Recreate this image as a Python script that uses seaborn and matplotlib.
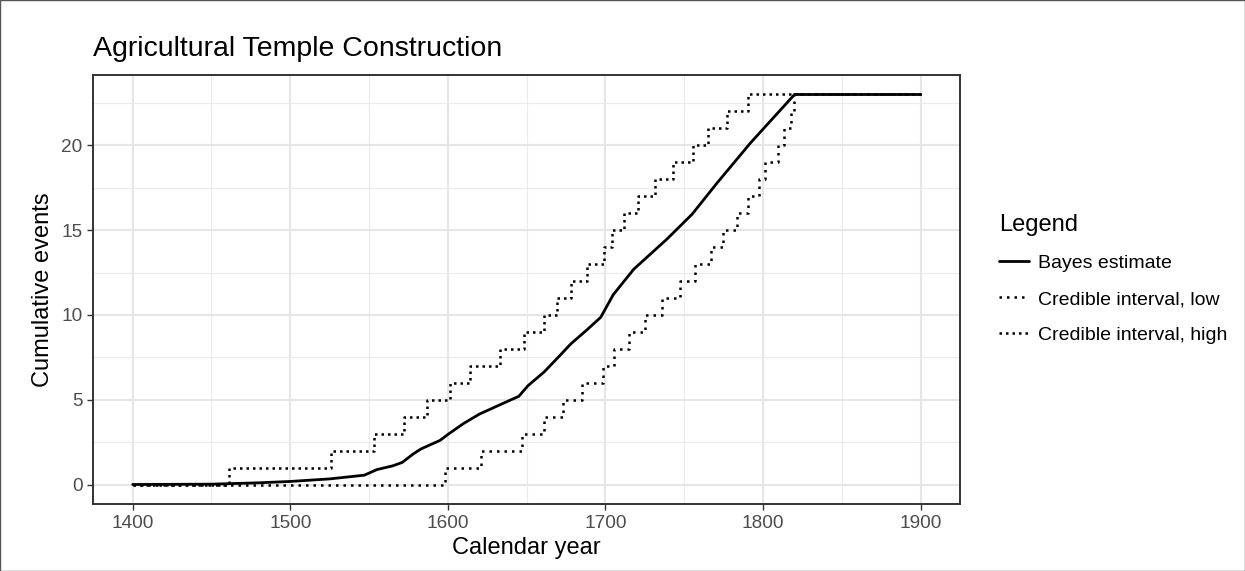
import matplotlib
matplotlib.use("Agg")
import matplotlib.pyplot as plt
from matplotlib.lines import Line2D
from matplotlib.patches import Rectangle
import seaborn as sns

# ---- data ----
# Bayes estimate of cumulative events
bayes_year = [1400, 1450, 1480, 1500, 1525, 1547, 1555, 1565, 1571, 1578, 1583,
              1595, 1600, 1610, 1620, 1633, 1645, 1651, 1661, 1670, 1678, 1688,
              1697, 1705, 1718, 1739, 1755, 1771, 1792, 1820, 1900]
bayes_value = [0, 0.02, 0.1, 0.18, 0.33, 0.55, 0.88, 1.1, 1.3, 1.8, 2.1,
               2.6, 2.95, 3.6, 4.15, 4.7, 5.2, 5.84, 6.63, 7.5, 8.29, 9.1,
               9.86, 11.2, 12.7, 14.47, 15.94, 17.8, 20.14, 23, 23]

# credible interval, low: year at which the count steps up
low_year = [1400, 1598, 1621.3, 1647.1, 1661.3, 1673.2, 1685.3, 1698.6, 1705.4,
            1714.9, 1725, 1735.6, 1747.1, 1756.8, 1766.8, 1774.6, 1783.3,
            1790.7, 1797.5, 1801.3, 1809.2, 1813.4, 1817.6, 1819.7, 1900]
low_count = [0, 1, 2, 3, 4, 5, 6, 7, 8, 9, 10, 11, 12, 13, 14, 15, 16, 17, 18,
             19, 20, 21, 22, 23, 23]

# credible interval, high
high_year = [1400, 1461.4, 1525.8, 1552.9, 1572.4, 1586.8, 1601.6, 1613.8,
             1633.4, 1648.6, 1660.9, 1669.4, 1678.3, 1688.4, 1699, 1704.3,
             1711.7, 1720.8, 1731.2, 1743.1, 1755.6, 1765.1, 1777, 1790.5, 1900]
high_count = [0, 1, 2, 3, 4, 5, 6, 7, 8, 9, 10, 11, 12, 13, 14, 15, 16, 17, 18,
              19, 20, 21, 22, 23, 23]

x_ticks = [1400, 1500, 1600, 1700, 1800, 1900]
y_ticks = [0, 5, 10, 15, 20]

# ---- style ----
sns.set_style("white")
plt.rcParams["font.family"] = ["Liberation Sans", "DejaVu Sans"]
plt.rcParams["text.color"] = "black"
plt.rcParams["axes.labelcolor"] = "black"

fig = plt.figure(figsize=(12.45, 5.71), dpi=100)
ax = fig.add_axes([93.3 / 1245, 67 / 571, (960 - 93.3) / 1245, (504 - 75) / 571])

low_style = (0, (1, 2.0))
high_style = (0, (1, 1.6))

sns.lineplot(x=low_year, y=low_count, ax=ax, color="black", lw=1.8,
             drawstyle="steps-post", linestyle=low_style, sort=False, estimator=None)
sns.lineplot(x=high_year, y=high_count, ax=ax, color="black", lw=1.8,
             drawstyle="steps-post", linestyle=high_style, sort=False, estimator=None)
sns.lineplot(x=bayes_year, y=bayes_value, ax=ax, color="black", lw=2.0,
             sort=False, estimator=None)

ax.set_xlim(1375, 1925)
ax.set_ylim(-1.15, 24.15)
ax.set_xticks(x_ticks)
ax.set_yticks(y_ticks)
ax.set_xticks([1450, 1550, 1650, 1750, 1850], minor=True)
ax.set_yticks([2.5, 7.5, 12.5, 17.5, 22.5], minor=True)
ax.grid(True, which="major", color="#E6E6E6", lw=1.5)
ax.grid(True, which="minor", color="#EBEBEB", lw=0.8)
ax.set_axisbelow(True)

for sp in ax.spines.values():
    sp.set_color("#333333")
    sp.set_linewidth(1.4)

ax.tick_params(axis="both", which="major", length=4.3, width=1.0, color="#333333",
               labelsize=13.7, labelcolor="#4D4D4D", pad=3.5, direction="out")
ax.tick_params(which="minor", length=0)
ax.tick_params(bottom=True, left=True)

ax.set_xlabel("Calendar year", fontsize=17, labelpad=4, color="black")
ax.set_ylabel("Cumulative events", fontsize=17, labelpad=5, color="black")
ax.set_title("Agricultural Temple Construction", fontsize=20.5, loc="left", pad=14,
             color="black")

handles = [
    Line2D([], [], color="black", lw=2.0),
    Line2D([], [], color="black", lw=1.8, linestyle=low_style),
    Line2D([], [], color="black", lw=1.8, linestyle=high_style),
]
labels = ["Bayes estimate", "Credible interval, low", "Credible interval, high"]
leg = ax.legend(handles, labels, title="Legend", loc="upper left",
                bbox_to_anchor=(999 / 1245, 1 - 214 / 571),
                bbox_transform=fig.transFigure, frameon=False,
                fontsize=14, title_fontsize=17, borderpad=0, borderaxespad=0,
                handlelength=1.55, handletextpad=0.45, labelspacing=0.95,
                alignment="left")
for t in leg.get_texts():
    t.set_color("black")
leg.get_title().set_color("black")

fig.add_artist(Rectangle((0, 0), 1, 1, transform=fig.transFigure, fill=False,
                         edgecolor="#555555", lw=1.0))

fig.savefig("out.png", dpi=100)
